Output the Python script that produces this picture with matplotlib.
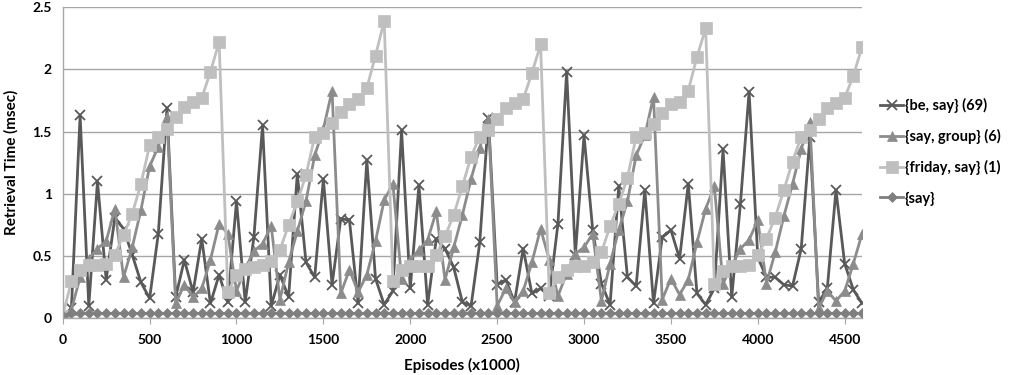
import numpy as np
import matplotlib.pyplot as plt

plt.rcParams['font.family'] = ['Lato', 'DejaVu Sans']
plt.rcParams['font.weight'] = 'bold'

# episodes (x1000), one sample every 50
episodes = np.arange(0, 4601, 50)

be_say = [
    0.02, 0.08, 1.63, 0.10, 1.10, 0.31, 0.81, 0.72, 0.51, 0.29,
    0.16, 0.68, 1.69, 0.17, 0.47, 0.21, 0.64, 0.12, 0.35, 0.13,
    0.94, 0.13, 0.65, 1.55, 0.10, 0.35, 0.17, 1.16, 0.45, 0.33,
    1.12, 0.27, 0.80, 0.79, 0.12, 1.27, 0.32, 0.11, 0.22, 1.51,
    0.24, 1.07, 0.11, 0.64, 0.56, 0.41, 0.13, 0.10, 0.61, 1.61,
    0.27, 0.31, 0.13, 0.56, 0.20, 0.24, 0.18, 0.76, 1.98, 0.51,
    1.47, 0.71, 0.28, 0.11, 1.06, 0.33, 0.26, 1.03, 0.12, 0.65,
    0.71, 0.48, 1.08, 0.20, 0.11, 0.24, 1.36, 0.17, 0.92, 1.82,
    0.49, 0.33, 0.33, 0.27, 0.26, 0.56, 1.46, 0.13, 0.24, 1.03,
    0.44, 0.23, 0.12,
]

say_group = [
    0.02, 0.07, 0.33, 0.48, 0.56, 0.62, 0.88, 0.33, 0.57, 0.87,
    1.22, 1.38, 1.62, 0.12, 0.27, 0.17, 0.24, 0.47, 0.76, 0.68,
    0.22, 0.40, 0.54, 0.60, 0.74, 0.15, 0.45, 0.70, 0.94, 1.31,
    1.52, 1.83, 0.20, 0.39, 0.21, 0.35, 0.62, 0.95, 1.08, 0.32,
    0.47, 0.55, 0.63, 0.86, 0.31, 0.57, 0.83, 1.12, 1.37, 1.60,
    0.10, 0.24, 0.13, 0.22, 0.45, 0.72, 0.47, 0.18, 0.36, 0.52,
    0.57, 0.68, 0.14, 0.44, 0.71, 0.94, 1.31, 1.47, 1.78, 0.15,
    0.32, 0.19, 0.31, 0.61, 0.88, 1.06, 0.28, 0.42, 0.56, 0.63,
    0.79, 0.28, 0.53, 0.82, 1.08, 1.36, 1.58, 0.08, 0.22, 0.14,
    0.22, 0.44, 0.68,
]

friday_say = [
    0.02, 0.30, 0.39, 0.43, 0.43, 0.44, 0.51, 0.67, 0.84, 1.08,
    1.39, 1.46, 1.52, 1.62, 1.70, 1.74, 1.77, 1.98, 2.22, 0.21,
    0.35, 0.40, 0.41, 0.43, 0.46, 0.55, 0.75, 0.94, 1.15, 1.46,
    1.49, 1.57, 1.66, 1.72, 1.76, 1.85, 2.11, 2.39, 0.30, 0.39,
    0.42, 0.42, 0.42, 0.51, 0.66, 0.83, 1.06, 1.30, 1.46, 1.51,
    1.60, 1.69, 1.73, 1.76, 1.97, 2.20, 0.20, 0.33, 0.39, 0.42,
    0.42, 0.45, 0.53, 0.74, 0.92, 1.13, 1.46, 1.49, 1.56, 1.65,
    1.72, 1.74, 1.83, 2.10, 2.33, 0.28, 0.38, 0.42, 0.42, 0.43,
    0.51, 0.64, 0.81, 1.03, 1.26, 1.46, 1.51, 1.60, 1.69, 1.73,
    1.77, 1.95, 2.18,
]

say_only = [0.02] + [0.04] * (len(episodes) - 1)

series = [
    ('{be, say} (69)', be_say, '#595959', 'x', 7.5, 1.3),
    ('{say, group} (6)', say_group, '#8c8c8c', '^', 7.5, 0.5),
    ('{friday, say} (1)', friday_say, '#bfbfbf', 's', 8, 0.5),
    ('{say}', say_only, '#7f7f7f', 'D', 5.5, 0.5),
]

fig = plt.figure(figsize=(10.15, 3.75), dpi=100)
ax = fig.add_axes([0.0618, 0.151, 0.7875, 0.83])

for label, vals, col, mk, ms, mew in series:
    ax.plot(episodes, vals, color=col, lw=2.0, marker=mk, markersize=ms,
            markeredgewidth=mew, markeredgecolor=col,
            markerfacecolor=col, label=label)

ax.set_xlim(0, 4600)
ax.set_ylim(0, 2.5)
ax.set_xticks(np.arange(0, 4501, 500))
ax.set_yticks([0, 0.5, 1, 1.5, 2, 2.5])
ax.set_yticklabels(['0', '0.5', '1', '1.5', '2', '2.5'])
ax.yaxis.grid(True, color='#a6a6a6', lw=1.0)
ax.set_axisbelow(True)

for s in ['top', 'right']:
    ax.spines[s].set_visible(False)
for s in ['left', 'bottom']:
    ax.spines[s].set_color('#a6a6a6')
    ax.spines[s].set_linewidth(1.0)

ax.tick_params(axis='y', length=0, labelsize=10, pad=8)
ax.tick_params(axis='x', length=4, color='#a6a6a6', labelsize=10, pad=7)

ax.set_xlabel('Episodes (x1000)', fontsize=11, fontweight='bold', labelpad=9)
ax.set_ylabel('Retrieval Time (msec)', fontsize=11, fontweight='bold', labelpad=10)

ax.legend(loc='center left', bbox_to_anchor=(1.015, 0.535), frameon=False,
          fontsize=10.5, handlelength=1.6, handletextpad=0.1, labelspacing=1.1,
          borderaxespad=0)

fig.savefig('out.png', dpi=100)
